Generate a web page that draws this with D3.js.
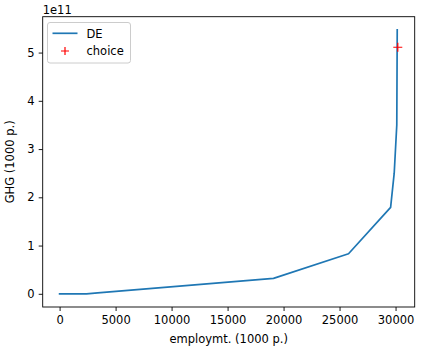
<!DOCTYPE html>
<html><head><meta charset="utf-8">
<script src="https://cdn.jsdelivr.net/npm/d3@7"></script>
<style>body{margin:0;background:#fff}svg{display:block}text{font-family:"DejaVu Sans",sans-serif;fill:#000}</style>
</head><body>
<svg id="c" width="423" height="360"></svg>
<script>
const employment = [0, 2400, 3400, 19100, 25800, 29560, 29880, 30110, 30150];
const ghg = [0, 0.0005e11, 0.018e11, 0.32e11, 0.83e11, 1.79e11, 2.5e11, 3.5e11, 5.47e11];
const choiceX = [30200];
const choiceY = [5.11e11];
const xTicks = [0, 5000, 10000, 15000, 20000, 25000, 30000];
const yTicks = [0, 1e11, 2e11, 3e11, 4e11, 5e11];
const seriesNames = ["DE", "choice"];

const FS = 11.5;
const svg = d3.select("#c");
const L = 42.7, R = 414.7, T = 16.7, B = 307;
const allX = employment.concat(choiceX), allY = ghg.concat(choiceY);
const [x0, x1] = d3.extent(allX), [y0, y1] = d3.extent(allY);
const mx = (x1 - x0) * 0.05, my = (y1 - y0) * 0.05;
const x = d3.scaleLinear().domain([x0 - mx, x1 + mx]).range([L, R]);
const y = d3.scaleLinear().domain([y0 - my, y1 + my]).range([B, T]);

const line = d3.line().x((d, i) => x(employment[i])).y((d, i) => y(ghg[i]));
svg.append("path").datum(employment).attr("d", line)
  .attr("fill", "none").attr("stroke", "#1f77b4").attr("stroke-width", 1.7)
  .attr("stroke-linejoin", "round").attr("stroke-linecap", "square");

choiceX.forEach((cx, i) => {
  const px = x(cx), py = y(choiceY[i]);
  svg.append("path").attr("d", `M${px-4.5},${py}H${px+4.5}M${px},${py-4.5}V${py+4.5}`)
    .attr("stroke", "red").attr("stroke-width", 1.2);
});

const xa = svg.append("g").attr("transform", `translate(0,${B})`)
  .call(d3.axisBottom(x).tickValues(xTicks).tickSize(4).tickPadding(5.3).tickFormat(d3.format("d")));
const ya = svg.append("g").attr("transform", `translate(${L},0)`)
  .call(d3.axisLeft(y).tickValues(yTicks).tickSize(4).tickPadding(4).tickFormat(d => d3.format("d")(d / 1e11)));
[xa, ya].forEach(a => {
  a.select(".domain").remove();
  a.selectAll("line").attr("stroke", "#000").attr("stroke-width", 0.9);
  a.selectAll("text").attr("font-size", FS).attr("font-family", "DejaVu Sans").attr("fill", "#000");
});

svg.append("rect").attr("x", L).attr("y", T).attr("width", R - L).attr("height", B - T)
  .attr("fill", "none").attr("stroke", "#000").attr("stroke-width", 0.9);

svg.append("text").attr("x", L).attr("y", 13.5).attr("font-size", FS).text("1e11");
svg.append("text").attr("x", (L + R) / 2).attr("y", 342.5).attr("text-anchor", "middle").attr("font-size", FS).text("employmt. (1000 p.)");
svg.append("text").attr("transform", `translate(13.5,${(T + B) / 2}) rotate(-90)`).attr("text-anchor", "middle").attr("font-size", FS).text("GHG (1000 p.)");

const lg = svg.append("g");
lg.append("rect").attr("x", 47.5).attr("y", 22.5).attr("width", 83).attr("height", 40.5).attr("rx", 2.5)
  .attr("fill", "#fff").attr("fill-opacity", 0.8).attr("stroke", "#ccc").attr("stroke-width", 1);
lg.append("line").attr("x1", 52.5).attr("x2", 77.5).attr("y1", 33.3).attr("y2", 33.3).attr("stroke", "#1f77b4").attr("stroke-width", 1.7);
lg.append("path").attr("d", "M61,51H69M65,47V55").attr("stroke", "red").attr("stroke-width", 1.2);
lg.append("text").attr("x", 86.5).attr("y", 37.5).attr("font-size", FS).text(seriesNames[0]);
lg.append("text").attr("x", 86.5).attr("y", 55).attr("font-size", FS).text(seriesNames[1]);
</script>
</body></html>
